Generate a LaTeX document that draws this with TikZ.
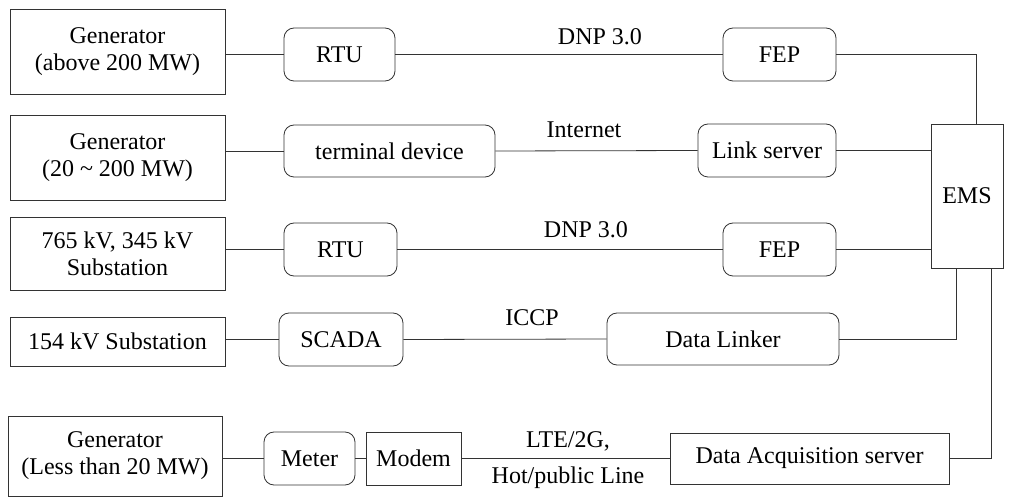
\documentclass[tikz,border=0pt]{standalone}
\usepackage{fontspec}
\setmainfont{Liberation Serif}
\begin{document}
\begin{tikzpicture}[x=1pt,y=-1pt,
  every node/.style={font=\fontsize{24}{27}\selectfont, inner sep=0pt, align=center},
  sq/.style={draw=black!80, line width=0.8pt, rectangle},
  rnd/.style={draw=black!80, line width=0.8pt, rectangle, rounded corners=10pt},
  wire/.style={draw=black!80, line width=0.8pt},
  lbl/.style={anchor=base}]
\useasboundingbox (0,0) rectangle (1013,497);
% sources
\node[sq, minimum width=215pt, minimum height=85pt] (g1) at (117.5,51.5) {Generator\\(above 200 MW)};
\node[sq, minimum width=215pt, minimum height=85pt] (g2) at (117.5,157.5) {Generator\\(20 \textasciitilde{} 200 MW)};
\node[sq, minimum width=215pt, minimum height=73pt] (g3) at (117.5,253.5) {765 kV, 345 kV\\Substation};
\node[sq, minimum width=215pt, minimum height=49pt] (g4) at (117.5,341.5) {154 kV Substation};
\node[sq, minimum width=214pt, minimum height=80pt] (g5) at (115,456) {Generator\\(Less than 20 MW)};
% devices
\node[rnd, minimum width=111pt, minimum height=53pt] (r1) at (339.5,54.5) {RTU};
\node[rnd, minimum width=211pt, minimum height=52pt] (td) at (389.5,151) {terminal device};
\node[rnd, minimum width=113pt, minimum height=53pt] (r3) at (340.5,249.5) {RTU};
\node[rnd, minimum width=124pt, minimum height=53pt] (sc) at (341,339.5) {SCADA};
\node[rnd, minimum width=91pt, minimum height=53pt] (mt) at (309.5,458.5) {Meter};
\node[sq, minimum width=95pt, minimum height=53pt] (md) at (413.5,458.5) {Modem};
% servers
\node[rnd, minimum width=113pt, minimum height=53pt] (f1) at (779.5,54.5) {FEP};
\node[rnd, minimum width=138pt, minimum height=53pt] (ls) at (767,150.5) {Link server};
\node[rnd, minimum width=113pt, minimum height=53pt] (f2) at (779.5,249.5) {FEP};
\node[rnd, minimum width=232pt, minimum height=52pt] (dl) at (723,339) {Data Linker};
\node[sq, minimum width=279pt, minimum height=51pt] (das) at (809.5,458.5) {Data Acquisition server};
\node[sq, minimum width=72pt, minimum height=144pt] (ems) at (967,196) {EMS};
% connectors
\draw[wire] (g1.east |- r1.west) -- (r1.west);
\draw[wire] (g2.east |- td.west) -- (td.west);
\draw[wire] (g3.east |- r3.west) -- (r3.west);
\draw[wire] (g4.east |- sc.west) -- (sc.west);
\draw[wire] (g5.east |- mt.west) -- (mt.west);
\draw[wire] (mt.east) -- (md.west);
\draw[wire] (r1.east) -- (f1.west);
\draw[wire] (td.east) -- (ls.west);
\draw[wire] (r3.east) -- (f2.west);
\draw[wire] (sc.east) -- (dl.west);
\draw[wire] (md.east) -- (das.west);
\draw[wire] (f1.east) -| ([xshift=9pt]ems.north);
\draw[wire] (ls.east) -- (ls.east -| ems.west);
\draw[wire] (f2.east) -- (f2.east -| ems.west);
\draw[wire] (dl.east) -| ([xshift=-11pt]ems.south);
\draw[wire] (das.east) -| ([xshift=24pt]ems.south);
% labels
\node[lbl] (l1) at (600,45) {DNP 3.0};
\node[lbl] (l2) at (584,138) {Internet};
\node[lbl] (l3) at (586,238) {DNP 3.0};
\node[lbl] (l4) at (532,326) {ICCP};
\node[lbl] (l5) at (568,447) {LTE/2G,};
\node[lbl] (l6) at (568,483) {Hot/public Line};
\end{tikzpicture}
\end{document}
